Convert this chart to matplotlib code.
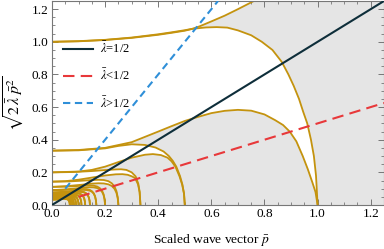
import numpy as np
import matplotlib
matplotlib.use("Agg")
import matplotlib.pyplot as plt
from matplotlib.ticker import MultipleLocator, FormatStrFormatter

plt.rcParams['font.family'] = ['Liberation Serif', 'DejaVu Serif']
plt.rcParams['mathtext.fontset'] = 'stix'

# ---- data ----
# boundary curve a0 (from (0,1) rising off the top)
a0_x = [0, 0.1, 0.2, 0.3, 0.4, 0.45, 0.5, 0.53, 0.556, 0.6, 0.65, 0.7, 0.76]
a0_y = [1.0, 1.003, 1.011, 1.024, 1.043, 1.055, 1.068, 1.08, 1.095, 1.125, 1.16, 1.2, 1.25]

# tongue 1 (x-intercept 1.0)
b1_x = [0, 0.1, 0.2, 0.3, 0.4, 0.45, 0.5, 0.53, 0.58, 0.62, 0.66, 0.7, 0.75, 0.79, 0.83, 0.865,
        0.89, 0.91, 0.93, 0.946, 0.961, 0.975, 0.986, 0.994, 1.0]
b1_y = [1.0, 1.004, 1.012, 1.026, 1.046, 1.058, 1.071, 1.08, 1.088, 1.09, 1.087, 1.07, 1.04, 1.0, 0.95, 0.877,
        0.8, 0.73, 0.65, 0.57, 0.5, 0.4, 0.3, 0.18, 0]
a1_x = [0, 0.1, 0.2, 0.3, 0.4, 0.45, 0.5, 0.55, 0.6, 0.65, 0.7, 0.75, 0.8, 0.84, 0.87, 0.895,
        0.92, 0.944, 0.963, 0.98, 0.992, 1.0]
a1_y = [0.333, 0.337, 0.35, 0.385, 0.45, 0.483, 0.515, 0.54, 0.563, 0.577, 0.583, 0.578, 0.555, 0.52, 0.49, 0.45,
        0.39, 0.3, 0.22, 0.14, 0.08, 0]

# tongue 2 (x-intercept 0.5)
b2_x = [0, 0.1, 0.2, 0.25, 0.3, 0.35, 0.39, 0.42, 0.44, 0.455, 0.468, 0.482, 0.491, 0.497, 0.5]
b2_y = [0.333, 0.335, 0.347, 0.362, 0.372, 0.368, 0.352, 0.328, 0.3, 0.27, 0.235, 0.177, 0.125, 0.07, 0]
a2_x = [0, 0.1, 0.15, 0.2, 0.25, 0.3, 0.35, 0.38, 0.41, 0.435, 0.45, 0.465, 0.48, 0.49, 0.497, 0.5]
a2_y = [0.2, 0.205, 0.215, 0.235, 0.263, 0.29, 0.308, 0.312, 0.306, 0.29, 0.268, 0.234, 0.176, 0.125, 0.07, 0]

# tongue 3 (x-intercept 1/3)
b3_x = [0, 0.08, 0.15, 0.2, 0.24, 0.26, 0.28, 0.3, 0.315, 0.325, 0.33, 0.333]
b3_y = [0.2, 0.202, 0.208, 0.214, 0.218, 0.219, 0.215, 0.2, 0.175, 0.13, 0.08, 0]
a3_x = [0, 0.05, 0.1, 0.15, 0.2, 0.24, 0.265, 0.285, 0.3, 0.313, 0.324, 0.33, 0.333]
a3_y = [0.143, 0.146, 0.155, 0.168, 0.181, 0.188, 0.189, 0.185, 0.176, 0.165, 0.126, 0.078, 0]

# smaller tongues: x-intercepts, y-intercepts of outer (b) and inner (a) edges
small_xint = [0.25, 0.2, 0.167, 0.143, 0.125, 0.111, 0.1, 0.091, 0.083, 0.077, 0.071, 0.067]
small_b_yint = [0.143, 0.111, 0.091, 0.077, 0.067, 0.059, 0.053, 0.048, 0.043, 0.04, 0.037, 0.034]
small_a_yint = [0.111, 0.091, 0.077, 0.067, 0.059, 0.053, 0.048, 0.043, 0.04, 0.037, 0.034, 0.032]
# shared arc profile (fractions of x-intercept / y-intercept)
prof_x = [0, 0.25, 0.45, 0.6, 0.7, 0.78, 0.85, 0.9, 0.94, 0.97, 0.99, 1.0]
prof_b = [1.0, 1.01, 1.04, 1.07, 1.08, 1.07, 1.02, 0.93, 0.8, 0.6, 0.33, 0]
prof_a = [1.0, 1.05, 1.12, 1.18, 1.2, 1.19, 1.14, 1.05, 0.9, 0.68, 0.37, 0]

# straight lines (slope)
lam_half_x = [0.0, 1.25]
lam_half_y = [0.0, 1.25]
lam_lt_x = [0.1, 1.25]
lam_lt_y = [0.05, 0.625]
lam_gt_x = [0.05, 0.625]
lam_gt_y = [0.1, 1.25]

gold = '#C4930E'
gray = '#E5E5E5'

fig = plt.figure(figsize=(3.84, 2.49), dpi=100)
ax = fig.add_axes([52/384, 1-205/249, 332/384, 204/249])
ax.set_xlim(0, 1.25)
ax.set_ylim(0, 1.25)
ax.set_facecolor(gray)

# white regions
ax.fill(a0_x + [0], a0_y + [1.25], color='white', lw=0, zorder=1)
tongues = [(b1_x, b1_y, a1_x, a1_y), (b2_x, b2_y, a2_x, a2_y), (b3_x, b3_y, a3_x, a3_y)]
for xi, by0, ay0 in zip(small_xint, small_b_yint, small_a_yint):
    px = [p * xi for p in prof_x]
    tongues.append((px, [p * by0 for p in prof_b], px, [p * ay0 for p in prof_a]))
for bx, by, axx, ayy in tongues:
    ax.fill(list(bx) + list(axx)[::-1], list(by) + list(ayy)[::-1], color='white', lw=0, zorder=1)

lw = 1.3
ax.plot(a0_x, a0_y, color=gold, lw=lw, zorder=2)
for bx, by, axx, ayy in tongues:
    ax.plot(bx, by, color=gold, lw=lw, zorder=2, solid_capstyle='butt', solid_joinstyle='round')
    ax.plot(axx, ayy, color=gold, lw=lw, zorder=2, solid_capstyle='butt', solid_joinstyle='round')

ax.plot(lam_half_x, lam_half_y, color='#0E2E3A', lw=1.5, zorder=3, label=r'$\bar{\lambda}$=1/2')
ax.plot(lam_lt_x, lam_lt_y, color='#E8383A', lw=1.5, ls=(0, (5.5, 3)), zorder=3, label=r'$\bar{\lambda}$<1/2')
ax.plot(lam_gt_x, lam_gt_y, color='#2F8FD8', lw=1.5, ls=(0, (3.5, 2.2)), zorder=3, label=r'$\bar{\lambda}$>1/2')

ax.xaxis.set_major_locator(MultipleLocator(0.2))
ax.yaxis.set_major_locator(MultipleLocator(0.2))
ax.xaxis.set_minor_locator(MultipleLocator(0.05))
ax.yaxis.set_minor_locator(MultipleLocator(0.05))
ax.xaxis.set_major_formatter(FormatStrFormatter('%.1f'))
ax.yaxis.set_major_formatter(FormatStrFormatter('%.1f'))
ax.tick_params(which='both', direction='in', top=True, right=True, color='#777777', labelsize=9.5, pad=2.5)
ax.tick_params(which='major', length=4, width=0.7)
ax.tick_params(which='minor', length=2, width=0.6)
for s in ax.spines.values():
    s.set_color('#777777')
    s.set_linewidth(0.8)

ax.set_xlabel(r'Scaled wave vector $\bar{p}$', fontsize=9.7)
ax.xaxis.set_label_coords((211.5 - 52) / 332, -0.13)
ax.set_ylabel(r'$\sqrt{2\,\bar{\lambda}\;\bar{p}^2}$', fontsize=11.5, labelpad=4)

leg = ax.legend(loc='upper left', bbox_to_anchor=((63 - 52) / 332, (205 - 41) / 204), frameon=False,
                fontsize=9, handlelength=2.4, labelspacing=0.95, handletextpad=0.55,
                borderaxespad=0, borderpad=0)
leg.set_zorder(5)

fig.savefig('out.png', dpi=100)
